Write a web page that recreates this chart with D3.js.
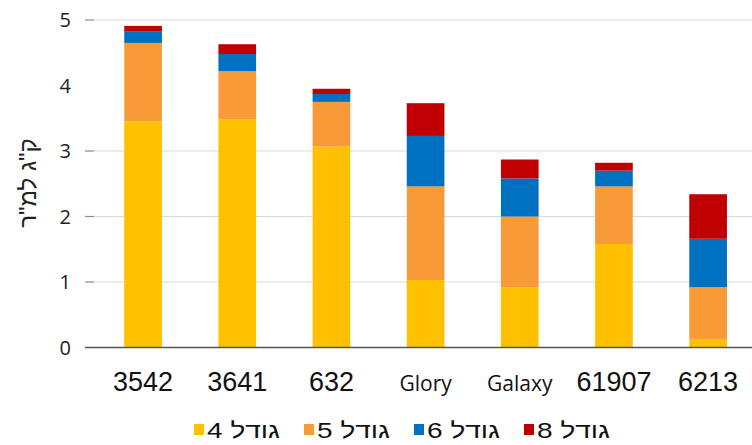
<!DOCTYPE html>
<html>
<head>
<meta charset="utf-8">
<script src="https://cdn.jsdelivr.net/npm/d3@7"></script>
<style>
  body { margin: 0; background: #fff; }
  svg { display: block; }
</style>
</head>
<body>
<div id="container"></div>
<script>
"use strict";

const varieties = ["3542", "3641", "632", "Glory", "Galaxy", "61907", "6213"];
const seriesNames = ["גודל 4", "גודל 5", "גודל 6", "גודל 8"];
const size4 = [3.45, 3.48, 3.07, 1.03, 0.92, 1.58, 0.13];
const size5 = [1.20, 0.74, 0.68, 1.43, 1.08, 0.88, 0.79];
const size6 = [0.18, 0.26, 0.12, 0.77, 0.58, 0.24, 0.74];
const size8 = [0.08, 0.15, 0.08, 0.50, 0.29, 0.12, 0.68];
const yTicks = [0, 1, 2, 3, 4, 5];
const gridValues = [1, 2, 3, 5];
const yLabel = "ק\"ג למ\"ר";

const width = 752;
const height = 445;
const colors = ["#FFC000", "#F99A38", "#0070C0", "#C00000"];

const table = varieties.map((v, i) => ({
  name: v,
  s0: size4[i], s1: size5[i], s2: size6[i], s3: size8[i]
}));

const stack = d3.stack().keys(["s0", "s1", "s2", "s3"]);
const series = stack(table);

const svg = d3.select("#container")
  .append("svg")
  .attr("width", width)
  .attr("height", height);

const x = d3.scaleBand()
  .domain(varieties)
  .range([96, 755.2])
  .paddingInner(0.6)
  .paddingOuter(0.3);

const y = d3.scaleLinear()
  .domain([0, 5])
  .range([347.5, 20]);

// gridlines (no line at 4 in the original)
svg.append("g")
  .selectAll("line")
  .data(gridValues)
  .enter()
  .append("line")
  .attr("x1", 94)
  .attr("x2", width)
  .attr("y1", d => y(d))
  .attr("y2", d => y(d))
  .style("stroke", "#d9d9d9")
  .style("stroke-width", 1.2);

svg.append("g")
  .selectAll("line")
  .data(gridValues)
  .enter()
  .append("line")
  .attr("x1", 85)
  .attr("x2", 94)
  .attr("y1", d => y(d))
  .attr("y2", d => y(d))
  .style("stroke", "#8c8c8c")
  .style("stroke-width", 1.2);

svg.append("g")
  .selectAll("text")
  .data(yTicks)
  .enter()
  .append("text")
  .attr("x", 71)
  .attr("y", d => y(d))
  .attr("dy", "0.36em")
  .attr("text-anchor", "end")
  .style("font-family", "'Open Sans', sans-serif")
  .style("font-size", "20px")
  .style("fill", "#222")
  .text(d => d);

// bars
svg.append("g")
  .selectAll("g")
  .data(series)
  .enter()
  .append("g")
  .attr("fill", (d, i) => colors[i])
  .selectAll("rect")
  .data(d => d)
  .enter()
  .append("rect")
  .attr("x", d => x(d.data.name))
  .attr("y", d => y(d[1]))
  .attr("width", x.bandwidth())
  .attr("height", d => y(d[0]) - y(d[1]));

// baseline
svg.append("line")
  .attr("x1", 85)
  .attr("x2", width)
  .attr("y1", y(0))
  .attr("y2", y(0))
  .style("stroke", "#555")
  .style("stroke-width", 1.5);

// x labels
svg.append("g")
  .selectAll("text")
  .data(varieties)
  .enter()
  .append("text")
  .attr("x", d => x(d) + x.bandwidth() / 2)
  .attr("y", 391)
  .attr("text-anchor", "middle")
  .style("font-family", d => isNaN(+d) ? "'Open Sans', sans-serif" : "'Liberation Sans', Arial, sans-serif")
  .style("font-size", d => isNaN(+d) ? "21px" : "27px")
  .style("fill", "#111")
  .text(d => d);

// y label
svg.append("text")
  .attr("transform", "translate(36,183) rotate(-90)")
  .attr("text-anchor", "middle")
  .attr("direction", "rtl")
  .style("font-family", "'Liberation Sans', Arial, sans-serif")
  .style("font-size", "24px")
  .style("fill", "#222")
  .text(yLabel);

// legend
const legend = svg.append("g");
const legendTextWidth = 73;
let cursor = 194;
seriesNames.forEach((name, i) => {
  legend.append("rect")
    .attr("x", cursor)
    .attr("y", 424)
    .attr("width", 10)
    .attr("height", 11)
    .attr("fill", colors[i]);
  legend.append("text")
    .attr("x", cursor + 13 + legendTextWidth / 2)
    .attr("y", 437.5)
    .attr("text-anchor", "middle")
    .attr("direction", "rtl")
    .attr("textLength", legendTextWidth)
    .attr("lengthAdjust", "spacingAndGlyphs")
    .style("font-family", "'Liberation Sans', Arial, sans-serif")
    .style("font-size", "22px")
    .style("fill", "#111")
    .text(name);
  cursor += 13 + legendTextWidth + 24;
});
</script>
</body>
</html>
